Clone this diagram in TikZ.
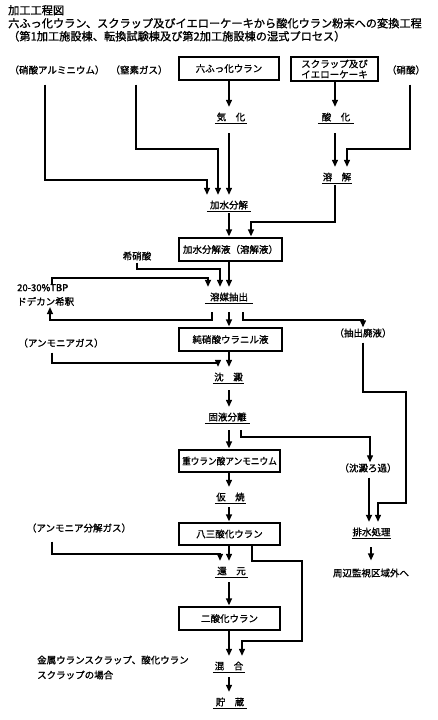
\documentclass[tikz,border=0pt]{standalone}
\usepackage{fontspec}
\usepackage{graphicx}
\setmainfont{Noto Sans CJK JP}[FakeBold=1.2]
\usetikzlibrary{arrows.meta,calc}
\begin{document}
\begin{tikzpicture}[x=1pt,y=-1pt,
  every node/.style={inner sep=0pt, font=\fontsize{9.5}{11}\selectfont},
  ln/.style={line width=1.3pt},
  thk/.style={line width=2.2pt},
  arr/.style={ln,-{Triangle[width=6pt,length=7pt]}},
  box/.style={draw, line width=1.3pt, minimum height=23pt},
  proc/.style={minimum width=#1, minimum height=12pt},
  ul/.style={line width=1.3pt},
]
\fill[white] (0,0) rectangle (438,720);
\useasboundingbox (0,0) rectangle (438,720);

% title
\node[anchor=north west, align=left, font=\fontsize{11.2}{13}\selectfont] (title) at (8,5)
  {加工工程図\\六ふっ化ウラン、スクラップ及びイエローケーキから酸化ウラン粉末への変換工程\\（第1加工施設棟、転換試験棟及び第2加工施設棟の湿式プロセス）};

% nodes
\node[box, minimum width=100pt] (uf6) at (229,68.5) {六ふっ化ウラン};
\node[box, minimum width=87pt, minimum height=24pt, align=center, font=\fontsize{9.5}{10.5}\selectfont] (scrap) at (334.5,69) {スクラップ及び\\イエローケーキ};
\node (alno3) at (57,70) {（硝酸アルミニウム）};
\node (n2) at (139,70) {（窒素ガス）};
\node (hno3) at (406,70) {（硝酸）};
\node[proc=32pt] (kika) at (231,117) {気　化};
\node[proc=36pt] (sanka) at (336,117) {酸　化};
\node[proc=30pt] (yokai) at (337,177) {溶　解};
\node[proc=44pt] (kasui) at (229,205) {加水分解};
\node[box, minimum width=103pt] (kasuieki) at (230.5,249.5) {加水分解液（溶解液）};
\node (kisho) at (137,256) {希硝酸};
\node[anchor=west, align=left, font=\fontsize{9.5}{14}\selectfont] (tbp) at (17,295) {20-30\%TBP\\ドデカン希釈};
\node[proc=48pt] (yobai) at (229,297) {溶媒抽出};
\node[box, minimum width=103pt] (jun) at (230.5,339.5) {純硝酸ウラニル液};
\node (nh3) at (61,343) {（アンモニアガス）};
\node (haieki) at (363,333) {（抽出廃液）};
\node[proc=31pt] (chinden) at (228.5,377) {沈　澱};
\node[proc=45pt] (koeki) at (227.5,417) {固液分離};
\node[box, minimum width=101pt, minimum height=22pt] (adu) at (229.5,461) {\scalebox{0.91}[1]{重ウラン酸アンモニウム}};
\node (roka) at (368,468) {（沈澱ろ過）};
\node[proc=31pt] (kasho) at (230.5,497) {仮　焼};
\node[box, minimum width=101pt, minimum height=22pt] (u3o8) at (229.5,534) {八三酸化ウラン};
\node (bunkai) at (79,528) {（アンモニア分解ガス）};
\node[proc=39pt] (haisui) at (371.5,532) {排水処理};
\node (shuhen) at (371,573) {周辺監視区域外へ};
\node[proc=33pt] (kangen) at (231.5,571) {還　元};
\node[box, minimum width=101pt] (uo2) at (229.5,618.5) {二酸化ウラン};
\node[anchor=west, align=left, font=\fontsize{9.5}{15}\selectfont] (kinzoku) at (37,667.5) {金属ウランスクラップ、酸化ウラン\\スクラップの場合};
\node[proc=32pt] (kongo) at (229,666) {混　合};
\node[proc=34pt] (chozo) at (230,702) {貯　蔵};

% underlines
\foreach \n in {kika,sanka,yokai,kasui,yobai,chinden,koeki,kasho,kangen,kongo,chozo,haisui}
  \draw[ul] (\n.south west) -- (\n.south east);

% connectors
\draw[arr, shorten <=10pt, shorten >=4pt] (alno3.south -| 45,0) |- (207,180) -- (207,0 |- kasui.north);
\draw[arr, shorten <=10pt, shorten >=4pt] (n2.south -| 136,0) |- (218,149) -- (218,0 |- kasui.north);
\draw[arr, shorten >=4pt] (uf6.south) -- (uf6.south |- kika.north);
\draw[arr, shorten <=10pt, shorten >=4pt] (kika.south -| 229,0) -- (229,0 |- kasui.north);
\draw[arr, shorten >=4pt] (scrap.south -| 335,0) -- (335,0 |- sanka.north);
\draw[arr, shorten <=10pt, shorten >=4pt] (sanka.south -| 335,0) -- (335,0 |- yokai.north);
\draw[arr, shorten <=10pt, shorten >=4pt] (hno3.south -| 410,0) |- (347,149) -- (347,0 |- yokai.north);
\draw[arr, shorten <=2pt, shorten >=1pt] (yokai.south -| 335,0) |- (251,222) -- (251,0 |- kasuieki.north);
\draw[arr, shorten <=2pt, shorten >=1pt] (kasui.south) -- (kasui.south |- kasuieki.north);
\draw[arr, shorten <=2pt, shorten >=4pt] (kisho.south) |- (220,269) -- (220,0 |- yobai.north);
\draw[arr, thk, shorten >=4pt] (tbp.north -| 52,0) |- (208,278) -- (208,0 |- yobai.north);
\draw[arr, shorten >=4pt] (kasuieki.south -| 229,0) -- (229,0 |- yobai.north);
\draw[arr, shorten <=9pt, shorten >=1pt] (yobai.south -| 212,0) |- (50,320) -- (50,0 |- tbp.south);
\draw[arr, shorten <=9pt, shorten >=1pt] (yobai.south -| 229,0) -- (229,0 |- jun.north);
\draw[arr, shorten <=9pt, shorten >=1pt] (yobai.south -| 243,0) |- (363,320) -- (363,0 |- haieki.north);
\draw[arr, shorten <=5pt, shorten >=4pt] (nh3.south -| 52,0) |- (218,363) -- (218,0 |- chinden.north);
\draw[arr, shorten >=4pt] (jun.south -| 229,0) -- (229,0 |- chinden.north);
\draw[arr, shorten <=5pt, shorten >=4pt] (haieki.south -| 363,0) |- (406,392) |- (378,503) -- (378,0 |- haisui.north);
\draw[arr, shorten <=7pt, shorten >=4pt] (chinden.south -| 229,0) -- (229,0 |- koeki.north);
\draw[arr, shorten <=7pt, shorten >=1pt] (koeki.south -| 229,0) -- (229,0 |- adu.north);
\draw[arr, shorten <=7pt, shorten >=1pt] (koeki.south -| 241,0) |- (370,437) -- (370,0 |- roka.north);
\draw[arr, shorten >=4pt] (adu.south -| 229,0) -- (229,0 |- kasho.north);
\draw[arr, shorten <=4pt, shorten >=1pt] (kasho.south -| 229,0) -- (229,0 |- u3o8.north);
\draw[arr, thk, shorten <=5pt, shorten >=4pt] (roka.south -| 369,0) -- (369,0 |- haisui.north);
\draw[arr, shorten <=9pt, shorten >=8pt] (haisui.south -| 371,0) -- (371,0 |- shuhen.north);
\draw[arr, shorten <=9pt, shorten >=4pt] (bunkai.south -| 52,0) |- (220,554) -- (220,0 |- kangen.north);
\draw[arr, shorten >=4pt] (u3o8.south -| 229,0) -- (229,0 |- kangen.north);
\draw[arr, shorten >=4pt] (u3o8.south -| 252,0) |- (302,561) |- (242,641) -- (242,0 |- kongo.north);
\draw[arr, shorten <=5pt, shorten >=1pt] (kangen.south -| 229,0) -- (229,0 |- uo2.north);
\draw[arr, shorten >=4pt] (uo2.south -| 229,0) -- (229,0 |- kongo.north);
\draw[arr, shorten <=5pt, shorten >=4pt] (kongo.south -| 229,0) -- (229,0 |- chozo.north);
\end{tikzpicture}
\end{document}
